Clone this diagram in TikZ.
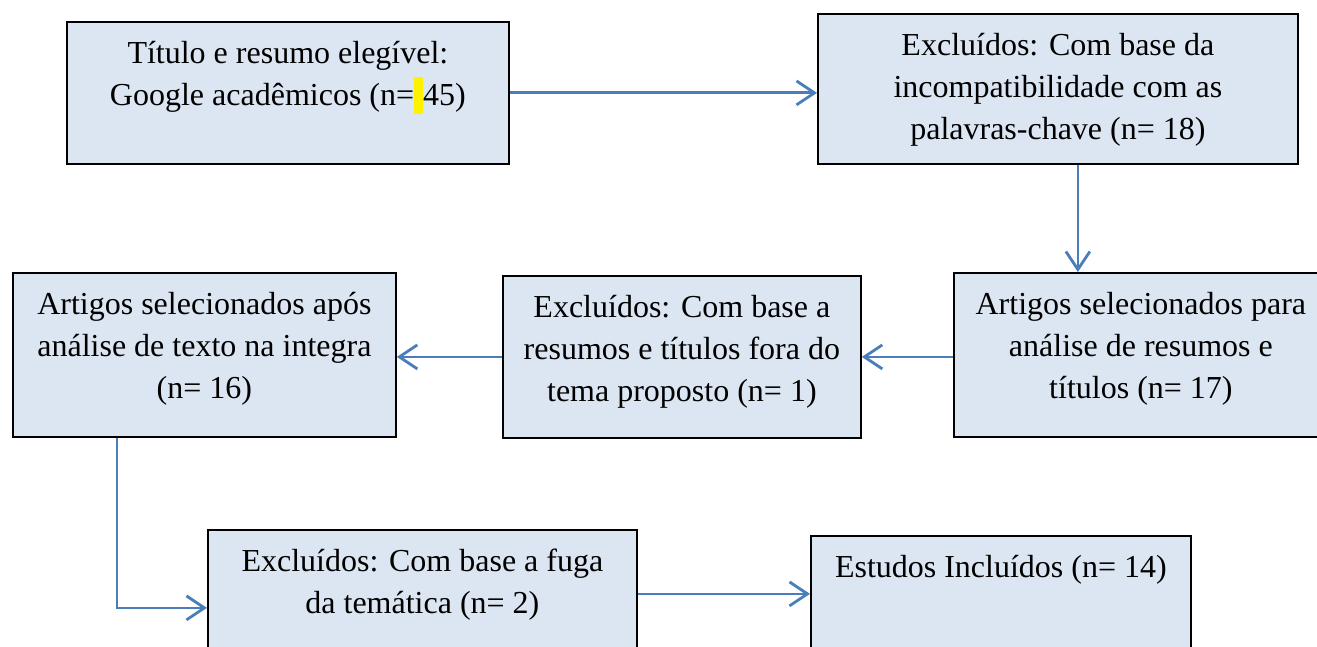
\documentclass[tikz,border=0pt]{standalone}
\usepackage{fontspec}
\setmainfont{Liberation Serif}
\usetikzlibrary{calc,arrows.meta,positioning}
\definecolor{cBoxFill}{HTML}{DCE6F2}
\definecolor{cArrow}{HTML}{4A7EBB}
% texto no topo da caixa
\newcommand{\boxtxt}[3]{\parbox[c][#2][t]{#1}{\centering\vspace*{12pt}\strut #3\par}}
\tikzset{
  caixa/.style={draw=black,line width=1.8pt,fill=cBoxFill,inner sep=0pt,anchor=north west,
    font=\fontsize{32pt}{42pt}\selectfont},
  seta/.style={draw=cArrow,line width=2.8pt,-{Straight Barb[length=18pt,width=24pt]}}
}

\begin{document}
\begin{tikzpicture}[x=1pt,y=-1pt]
\useasboundingbox (0,0) rectangle (1317,647);
\clip (0,0) rectangle (1317,647);
%caixas
\node[caixa] (tit) at (66,21) {\boxtxt{442pt}{142pt}{T\'itulo e resumo eleg\'ivel:\\
    Google acad\^emicos (n=\textcolor{yellow}{\rule[-9pt]{9pt}{37pt}}45)}};
\node[caixa] (exc1) at (817,13) {\boxtxt{480pt}{150pt}{Exclu\'idos: Com base da\\
    incompatibilidade com as\\ palavras-chave (n= 18)}};
\node[caixa] (sel1) at (953,272) {\boxtxt{374pt}{164pt}{Artigos selecionados para\\
    an\'alise de resumos e\\ t\'itulos (n= 17)}};
\node[caixa] (exc2) at (502,275) {\boxtxt{358pt}{162pt}{Exclu\'idos: Com base a\\
    resumos e t\'itulos fora do\\ tema proposto (n= 1)}};
\node[caixa] (sel2) at (12,272) {\boxtxt{383pt}{164pt}{Artigos selecionados ap\'os\\
    an\'alise de texto na integra\\ (n= 16)}};
\node[caixa] (exc3) at (207,529) {\boxtxt{429pt}{156pt}{Exclu\'idos: Com base a fuga\\
    da tem\'atica (n= 2)}};
\node[caixa] (inc) at (810,535) {\boxtxt{380pt}{150pt}{Estudos Inclu\'idos (n= 14)}};

%setas
\draw[seta] (tit.east) -- (tit.east -| exc1.west);
\draw[seta] ([xshift=20pt]exc1.south) -- ([xshift=20pt]exc1.south |- sel1.north);
\draw[seta] ([yshift=-2pt]sel1.west) -- ([yshift=-2pt]sel1.west -| exc2.east);
\draw[seta] (exc2.west) -- (exc2.west -| sel2.east);
\draw[seta] ([xshift=105pt]sel2.south west) |- (exc3.west);
\draw[seta] ([yshift=14pt]exc3.east) -- ([yshift=14pt]exc3.east -| inc.west);
\end{tikzpicture}
\end{document}
